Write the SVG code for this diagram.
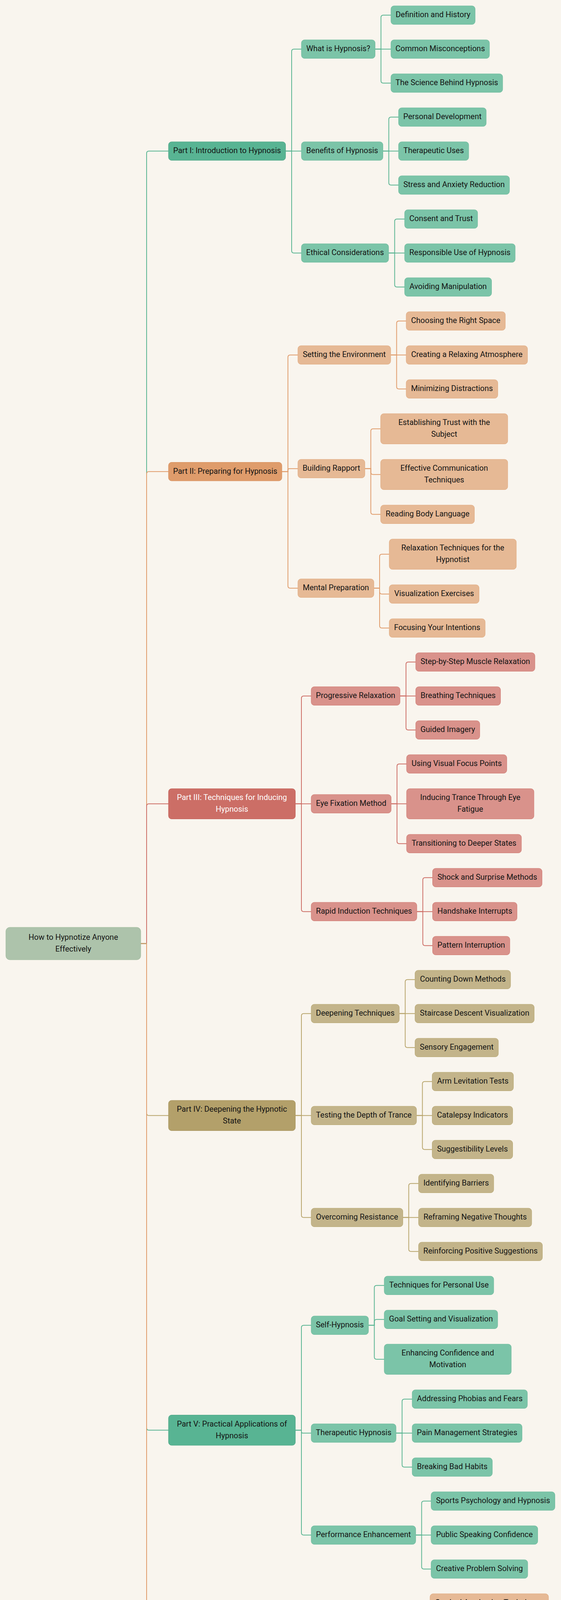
<svg xmlns="http://www.w3.org/2000/svg" width="1435" height="4839" viewBox="0 0 1435 4839">
<style>
.bg{fill:#f9f5ee}
.l{fill:none;stroke-width:2}
.lg{stroke:#5ab592}.lo{stroke:#e09c6b}.lr{stroke:#cd6e66}.ly{stroke:#b8a56c}
rect{stroke-width:1}
.root{fill:#adc3ab;stroke:#a0bb9d}
.g1{fill:#58b493;stroke:#4da585}.g2{fill:#7bc4a8;stroke:#6dba9c}
.o1{fill:#df9c6b;stroke:#d88f5c}.o2{fill:#e6b995;stroke:#e0aa80}
.r1{fill:#cc6e66;stroke:#c3625a}.r2{fill:#d9928b;stroke:#d07b73}
.y1{fill:#b3a06a;stroke:#a8955f}.y2{fill:#c3b48a;stroke:#b8a872}
text{font-family:Roboto,"Liberation Sans",sans-serif;font-size:20px;fill:#141414;text-anchor:middle}
.tw{fill:#ffffff}
</style>
<rect class="bg" x="0" y="0" width="1435" height="4839" stroke="none"/>
<g id="connectors">
<g class="l lg">
<path d="M360 2415.5 H375 V392.75 Q375 386.75 381 386.75 H431"/>
</g>
<g class="l lo">
<path d="M360 2415.5 H375 V1213.25 Q375 1207.25 381 1207.25 H431"/>
</g>
<g class="l lr">
<path d="M360 2415.5 H375 V2063.75 Q375 2057.75 381 2057.75 H431"/>
</g>
<g class="l ly">
<path d="M360 2415.5 H375 V2849.75 Q375 2855.75 381 2855.75 H431"/>
</g>
<g class="l lg">
<path d="M360 2415.5 H375 V3655.25 Q375 3661.25 381 3661.25 H431"/>
</g>
<g class="l lo">
<path d="M360 2415.5 H375 V4438.25 Q375 4444.25 381 4444.25 H431"/>
</g>
<g class="l lg">
<path d="M730.5 386.75 H746 V131.75 Q746 125.75 752 125.75 H771"/>
<path d="M730.5 386.75 H771"/>
<path d="M730.5 386.75 H746 V641.75 Q746 647.75 752 647.75 H771"/>
<path d="M959.5 125.75 H974.5 V44.75 Q974.5 38.75 980.5 38.75 H1000"/>
<path d="M959.5 125.75 H1000"/>
<path d="M959.5 125.75 H974.5 V206.75 Q974.5 212.75 980.5 212.75 H1000"/>
<path d="M979.5 386.75 H994.5 V305.75 Q994.5 299.75 1000.5 299.75 H1019.5"/>
<path d="M979.5 386.75 H1019.5"/>
<path d="M979.5 386.75 H994.5 V467.75 Q994.5 473.75 1000.5 473.75 H1019.5"/>
<path d="M994 647.75 H1009.5 V566.75 Q1009.5 560.75 1015.5 560.75 H1035"/>
<path d="M994 647.75 H1035"/>
<path d="M994 647.75 H1009.5 V728.75 Q1009.5 734.75 1015.5 734.75 H1035"/>
</g>
<g class="l lo">
<path d="M721 1207.25 H736.5 V914.75 Q736.5 908.75 742.5 908.75 H762"/>
<path d="M721 1207.25 H736.5 V1203.5 Q736.5 1199.75 740.25 1199.75 H762"/>
<path d="M721 1207.25 H736.5 V1499.75 Q736.5 1505.75 742.5 1505.75 H762"/>
<path d="M999.3 908.75 H1014.5 V827.75 Q1014.5 821.75 1020.5 821.75 H1039"/>
<path d="M999.3 908.75 H1039"/>
<path d="M999.3 908.75 H1014.5 V989.75 Q1014.5 995.75 1020.5 995.75 H1039"/>
<path d="M933.3 1199.75 H948.5 V1103.75 Q948.5 1097.75 954.5 1097.75 H973.7"/>
<path d="M933.3 1199.75 H948.5 V1208.75 Q948.5 1214.75 954.5 1214.75 H973.7"/>
<path d="M933.3 1199.75 H948.5 V1310.75 Q948.5 1316.75 954.5 1316.75 H973.7"/>
<path d="M956.3 1505.75 H971 V1424.75 Q971 1418.75 977 1418.75 H995.7"/>
<path d="M956.3 1505.75 H971 V1514.75 Q971 1520.75 977 1520.75 H995.7"/>
<path d="M956.3 1505.75 H971 V1601.75 Q971 1607.75 977 1607.75 H995.7"/>
</g>
<g class="l lr">
<path d="M755.5 2057.75 H771 V1787.75 Q771 1781.75 777 1781.75 H796"/>
<path d="M755.5 2057.75 H796"/>
<path d="M755.5 2057.75 H771 V2327.75 Q771 2333.75 777 2333.75 H796"/>
<path d="M1023.2 1781.75 H1038.5 V1700.75 Q1038.5 1694.75 1044.5 1694.75 H1063.4"/>
<path d="M1023.2 1781.75 H1063.4"/>
<path d="M1023.2 1781.75 H1038.5 V1862.75 Q1038.5 1868.75 1044.5 1868.75 H1063.4"/>
<path d="M1000.5 2057.75 H1015.5 V1961.75 Q1015.5 1955.75 1021.5 1955.75 H1040"/>
<path d="M1000.5 2057.75 H1040"/>
<path d="M1000.5 2057.75 H1015.5 V2153.75 Q1015.5 2159.75 1021.5 2159.75 H1040"/>
<path d="M1066.2 2333.75 H1081.5 V2252.75 Q1081.5 2246.75 1087.5 2246.75 H1106.5"/>
<path d="M1066.2 2333.75 H1106.5"/>
<path d="M1066.2 2333.75 H1081.5 V2414.75 Q1081.5 2420.75 1087.5 2420.75 H1106.5"/>
</g>
<g class="l ly">
<path d="M755.5 2855.75 H771 V2600.75 Q771 2594.75 777 2594.75 H796"/>
<path d="M755.5 2855.75 H796"/>
<path d="M755.5 2855.75 H771 V3110.75 Q771 3116.75 777 3116.75 H796"/>
<path d="M1021.3 2594.75 H1036.5 V2513.75 Q1036.5 2507.75 1042.5 2507.75 H1061.6"/>
<path d="M1021.3 2594.75 H1061.6"/>
<path d="M1021.3 2594.75 H1036.5 V2675.75 Q1036.5 2681.75 1042.5 2681.75 H1061.6"/>
<path d="M1065.3 2855.75 H1080.5 V2774.75 Q1080.5 2768.75 1086.5 2768.75 H1105.5"/>
<path d="M1065.3 2855.75 H1105.5"/>
<path d="M1065.3 2855.75 H1080.5 V2936.75 Q1080.5 2942.75 1086.5 2942.75 H1105.5"/>
<path d="M1030.5 3116.75 H1045.5 V3035.75 Q1045.5 3029.75 1051.5 3029.75 H1070.7"/>
<path d="M1030.5 3116.75 H1070.7"/>
<path d="M1030.5 3116.75 H1045.5 V3197.75 Q1045.5 3203.75 1051.5 3203.75 H1070.7"/>
</g>
<g class="l lg">
<path d="M755.5 3661.25 H771 V3398.75 Q771 3392.75 777 3392.75 H796"/>
<path d="M755.5 3661.25 H771 V3665 Q771 3668.75 774.75 3668.75 H796"/>
<path d="M755.5 3661.25 H771 V3923.75 Q771 3929.75 777 3929.75 H796"/>
<path d="M942.5 3392.75 H957.5 V3296.75 Q957.5 3290.75 963.5 3290.75 H982.9"/>
<path d="M942.5 3392.75 H957.5 V3383.75 Q957.5 3377.75 963.5 3377.75 H982.9"/>
<path d="M942.5 3392.75 H957.5 V3473.75 Q957.5 3479.75 963.5 3479.75 H982.9"/>
<path d="M1013 3668.75 H1028.5 V3587.75 Q1028.5 3581.75 1034.5 3581.75 H1054.3"/>
<path d="M1013 3668.75 H1054.3"/>
<path d="M1013 3668.75 H1028.5 V3749.75 Q1028.5 3755.75 1034.5 3755.75 H1054.3"/>
<path d="M1063.3 3929.75 H1078.5 V3848.75 Q1078.5 3842.75 1084.5 3842.75 H1102.8"/>
<path d="M1063.3 3929.75 H1102.8"/>
<path d="M1063.3 3929.75 H1078.5 V4010.75 Q1078.5 4016.75 1084.5 4016.75 H1102.8"/>
</g>
<g class="l lo">
<path d="M694.5 4444.25 H710 V4196.75 Q710 4190.75 716 4190.75 H735"/>
<path d="M694.5 4444.25 H710 V4448 Q710 4451.75 713.75 4451.75 H735"/>
<path d="M694.5 4444.25 H710 V4706.75 Q710 4712.75 716 4712.75 H735"/>
<path d="M1059 4190.75 H1074.5 V4109.75 Q1074.5 4103.75 1080.5 4103.75 H1100"/>
<path d="M1059 4190.75 H1100"/>
<path d="M1059 4190.75 H1074.5 V4271.75 Q1074.5 4277.75 1080.5 4277.75 H1100"/>
<path d="M971 4451.75 H986 V4370.75 Q986 4364.75 992 4364.75 H1011.3"/>
<path d="M971 4451.75 H1011.3"/>
<path d="M971 4451.75 H986 V4532.75 Q986 4538.75 992 4538.75 H1011.3"/>
<path d="M984 4712.75 H999 V4631.75 Q999 4625.75 1005 4625.75 H1024.1"/>
<path d="M984 4712.75 H1024.1"/>
<path d="M984 4712.75 H999 V4793.75 Q999 4799.75 1005 4799.75 H1024.1"/>
</g>
</g>

<g id="node-root"><rect class="root" x="15" y="2374" width="345" height="83" rx="10"/><text x="187.5" y="2405.8">How to Hypnotize Anyone</text><text x="187.5" y="2435.8">Effectively</text></g>

<g id="node-part1"><rect class="g1" x="431" y="363" width="299.5" height="47.5" rx="8"/><text x="580.75" y="392.05">Part I: Introduction to Hypnosis</text></g>
<g id="node-what"><rect class="g2" x="771" y="102" width="188.5" height="47.5" rx="8"/><text x="865.25" y="131.05">What is Hypnosis?</text></g>
<g id="node-benefits"><rect class="g2" x="771" y="363" width="208.5" height="47.5" rx="8"/><text x="875.25" y="392.05">Benefits of Hypnosis</text></g>
<g id="node-ethical"><rect class="g2" x="771" y="624" width="223" height="47.5" rx="8"/><text x="882.5" y="653.05">Ethical Considerations</text></g>
<g id="node-definition"><rect class="g2" x="1000" y="15" width="215.3" height="47.5" rx="8"/><text x="1107.65" y="44.05">Definition and History</text></g>
<g id="node-misconceptions"><rect class="g2" x="1000" y="102" width="252" height="47.5" rx="8"/><text x="1126" y="131.05">Common Misconceptions</text></g>
<g id="node-science"><rect class="g2" x="1000" y="189" width="285.8" height="47.5" rx="8"/><text x="1142.9" y="218.05">The Science Behind Hypnosis</text></g>
<g id="node-personal"><rect class="g2" x="1019.5" y="276" width="224.2" height="47.5" rx="8"/><text x="1131.6" y="305.05">Personal Development</text></g>
<g id="node-therapeutic-uses"><rect class="g2" x="1019.5" y="363" width="179.4" height="47.5" rx="8"/><text x="1109.2" y="392.05">Therapeutic Uses</text></g>
<g id="node-stress"><rect class="g2" x="1019.5" y="450" width="283.7" height="47.5" rx="8"/><text x="1161.35" y="479.05">Stress and Anxiety Reduction</text></g>
<g id="node-consent"><rect class="g2" x="1035" y="537" width="186.7" height="47.5" rx="8"/><text x="1128.35" y="566.05">Consent and Trust</text></g>
<g id="node-responsible"><rect class="g2" x="1035" y="624" width="282.8" height="47.5" rx="8"/><text x="1176.4" y="653.05">Responsible Use of Hypnosis</text></g>
<g id="node-avoiding"><rect class="g2" x="1035" y="711" width="222.4" height="47.5" rx="8"/><text x="1146.2" y="740.05">Avoiding Manipulation</text></g>

<g id="node-part2"><rect class="o1" x="431" y="1183.5" width="290" height="47.5" rx="8"/><text x="576" y="1212.55">Part II: Preparing for Hypnosis</text></g>
<g id="node-setting"><rect class="o2" x="762" y="885" width="237.3" height="47.5" rx="8"/><text x="880.65" y="914.05">Setting the Environment</text></g>
<g id="node-rapport"><rect class="o2" x="762" y="1176" width="171.3" height="47.5" rx="8"/><text x="847.65" y="1205.05">Building Rapport</text></g>
<g id="node-mental"><rect class="o2" x="762" y="1482" width="194.3" height="47.5" rx="8"/><text x="859.15" y="1511.05">Mental Preparation</text></g>
<g id="node-choosing"><rect class="o2" x="1039" y="798" width="253.5" height="47.5" rx="8"/><text x="1165.75" y="827.05">Choosing the Right Space</text></g>
<g id="node-creating"><rect class="o2" x="1039" y="885" width="310.3" height="47.5" rx="8"/><text x="1194.15" y="914.05">Creating a Relaxing Atmosphere</text></g>
<g id="node-minimizing"><rect class="o2" x="1039" y="972" width="234.3" height="47.5" rx="8"/><text x="1156.15" y="1001.05">Minimizing Distractions</text></g>
<g id="node-establishing"><rect class="o2" x="973.7" y="1059" width="325" height="77.5" rx="8"/><text x="1136.2" y="1088.05">Establishing Trust with the</text><text x="1136.2" y="1118.05">Subject</text></g>
<g id="node-effective"><rect class="o2" x="973.7" y="1176" width="325" height="77.5" rx="8"/><text x="1136.2" y="1205.05">Effective Communication</text><text x="1136.2" y="1235.05">Techniques</text></g>
<g id="node-reading"><rect class="o2" x="973.7" y="1293" width="239.8" height="47.5" rx="8"/><text x="1093.6" y="1322.05">Reading Body Language</text></g>
<g id="node-relaxation"><rect class="o2" x="995.7" y="1380" width="325" height="77.5" rx="8"/><text x="1158.2" y="1409.05">Relaxation Techniques for the</text><text x="1158.2" y="1439.05">Hypnotist</text></g>
<g id="node-visualization"><rect class="o2" x="995.7" y="1497" width="229.7" height="47.5" rx="8"/><text x="1110.55" y="1526.05">Visualization Exercises</text></g>
<g id="node-focusing"><rect class="o2" x="995.7" y="1584" width="245.3" height="47.5" rx="8"/><text x="1118.35" y="1613.05">Focusing Your Intentions</text></g>

<g id="node-part3"><rect class="r1" x="431" y="2019" width="324.5" height="77.5" rx="8"/><text class="tw" x="593.25" y="2048.05">Part III: Techniques for Inducing</text><text class="tw" x="593.25" y="2078.05">Hypnosis</text></g>
<g id="node-progressive"><rect class="r2" x="796" y="1758" width="227.2" height="47.5" rx="8"/><text x="909.6" y="1787.05">Progressive Relaxation</text></g>
<g id="node-eye"><rect class="r2" x="796" y="2034" width="204.5" height="47.5" rx="8"/><text x="898.25" y="2063.05">Eye Fixation Method</text></g>
<g id="node-rapid"><rect class="r2" x="796" y="2310" width="270.2" height="47.5" rx="8"/><text x="931.1" y="2339.05">Rapid Induction Techniques</text></g>
<g id="node-stepbystep"><rect class="r2" x="1063.4" y="1671" width="304.8" height="47.5" rx="8"/><text x="1215.8" y="1700.05">Step-by-Step Muscle Relaxation</text></g>
<g id="node-breathing"><rect class="r2" x="1063.4" y="1758" width="216.9" height="47.5" rx="8"/><text x="1171.85" y="1787.05">Breathing Techniques</text></g>
<g id="node-guided"><rect class="r2" x="1063.4" y="1845" width="163.8" height="47.5" rx="8"/><text x="1145.3" y="1874.05">Guided Imagery</text></g>
<g id="node-visualfocus"><rect class="r2" x="1040" y="1932" width="256.3" height="47.5" rx="8"/><text x="1168.15" y="1961.05">Using Visual Focus Points</text></g>
<g id="node-inducing"><rect class="r2" x="1040" y="2019" width="325.8" height="77.5" rx="8"/><text x="1202.9" y="2048.05">Inducing Trance Through Eye</text><text x="1202.9" y="2078.05">Fatigue</text></g>
<g id="node-transitioning"><rect class="r2" x="1040" y="2136" width="293.8" height="47.5" rx="8"/><text x="1186.9" y="2165.05">Transitioning to Deeper States</text></g>
<g id="node-shock"><rect class="r2" x="1106.5" y="2223" width="280" height="47.5" rx="8"/><text x="1246.5" y="2252.05">Shock and Surprise Methods</text></g>
<g id="node-handshake"><rect class="r2" x="1106.5" y="2310" width="216" height="47.5" rx="8"/><text x="1214.5" y="2339.05">Handshake Interrupts</text></g>
<g id="node-pattern"><rect class="r2" x="1106.5" y="2397" width="197.6" height="47.5" rx="8"/><text x="1205.3" y="2426.05">Pattern Interruption</text></g>

<g id="node-part4"><rect class="y1" x="431" y="2817" width="324.5" height="77.5" rx="8"/><text x="593.25" y="2846.05">Part IV: Deepening the Hypnotic</text><text x="593.25" y="2876.05">State</text></g>
<g id="node-deepening"><rect class="y2" x="796" y="2571" width="225.3" height="47.5" rx="8"/><text x="908.65" y="2600.05">Deepening Techniques</text></g>
<g id="node-testing"><rect class="y2" x="796" y="2832" width="269.3" height="47.5" rx="8"/><text x="930.65" y="2861.05">Testing the Depth of Trance</text></g>
<g id="node-overcoming"><rect class="y2" x="796" y="3093" width="234.5" height="47.5" rx="8"/><text x="913.25" y="3122.05">Overcoming Resistance</text></g>
<g id="node-counting"><rect class="y2" x="1061.6" y="2484" width="244.4" height="47.5" rx="8"/><text x="1183.8" y="2513.05">Counting Down Methods</text></g>
<g id="node-staircase"><rect class="y2" x="1061.6" y="2571" width="304.8" height="47.5" rx="8"/><text x="1214" y="2600.05">Staircase Descent Visualization</text></g>
<g id="node-sensory"><rect class="y2" x="1061.6" y="2658" width="213.2" height="47.5" rx="8"/><text x="1168.2" y="2687.05">Sensory Engagement</text></g>
<g id="node-arm"><rect class="y2" x="1105.5" y="2745" width="207.8" height="47.5" rx="8"/><text x="1209.4" y="2774.05">Arm Levitation Tests</text></g>
<g id="node-catalepsy"><rect class="y2" x="1105.5" y="2832" width="205.9" height="47.5" rx="8"/><text x="1208.45" y="2861.05">Catalepsy Indicators</text></g>
<g id="node-suggestibility"><rect class="y2" x="1105.5" y="2919" width="205.9" height="47.5" rx="8"/><text x="1208.45" y="2948.05">Suggestibility Levels</text></g>
<g id="node-identifying"><rect class="y2" x="1070.7" y="3006" width="192.2" height="47.5" rx="8"/><text x="1166.8" y="3035.05">Identifying Barriers</text></g>
<g id="node-reframing"><rect class="y2" x="1070.7" y="3093" width="289.3" height="47.5" rx="8"/><text x="1215.35" y="3122.05">Reframing Negative Thoughts</text></g>
<g id="node-reinforcing"><rect class="y2" x="1070.7" y="3180" width="316.7" height="47.5" rx="8"/><text x="1229.05" y="3209.05">Reinforcing Positive Suggestions</text></g>

<g id="node-part5"><rect class="g1" x="431" y="3622.5" width="324.5" height="77.5" rx="8"/><text x="593.25" y="3651.55">Part V: Practical Applications of</text><text x="593.25" y="3681.55">Hypnosis</text></g>
<g id="node-self"><rect class="g2" x="796" y="3369" width="146.5" height="47.5" rx="8"/><text x="869.25" y="3398.05">Self-Hypnosis</text></g>
<g id="node-therapeutic"><rect class="g2" x="796" y="3645" width="217" height="47.5" rx="8"/><text x="904.5" y="3674.05">Therapeutic Hypnosis</text></g>
<g id="node-performance"><rect class="g2" x="796" y="3906" width="267.3" height="47.5" rx="8"/><text x="929.65" y="3935.05">Performance Enhancement</text></g>
<g id="node-personaluse"><rect class="g2" x="982.9" y="3267" width="280" height="47.5" rx="8"/><text x="1122.9" y="3296.05">Techniques for Personal Use</text></g>
<g id="node-goal"><rect class="g2" x="982.9" y="3354" width="290.1" height="47.5" rx="8"/><text x="1127.95" y="3383.05">Goal Setting and Visualization</text></g>
<g id="node-enhancing"><rect class="g2" x="982.9" y="3441" width="324.9" height="77.5" rx="8"/><text x="1145.35" y="3470.05">Enhancing Confidence and</text><text x="1145.35" y="3500.05">Motivation</text></g>
<g id="node-phobias"><rect class="g2" x="1054.3" y="3558" width="294.7" height="47.5" rx="8"/><text x="1201.65" y="3587.05">Addressing Phobias and Fears</text></g>
<g id="node-pain"><rect class="g2" x="1054.3" y="3645" width="281" height="47.5" rx="8"/><text x="1194.8" y="3674.05">Pain Management Strategies</text></g>
<g id="node-habits"><rect class="g2" x="1054.3" y="3732" width="205" height="47.5" rx="8"/><text x="1156.8" y="3761.05">Breaking Bad Habits</text></g>
<g id="node-sports"><rect class="g2" x="1102.8" y="3819" width="316.6" height="47.5" rx="8"/><text x="1261.1" y="3848.05">Sports Psychology and Hypnosis</text></g>
<g id="node-public"><rect class="g2" x="1102.8" y="3906" width="272.7" height="47.5" rx="8"/><text x="1239.15" y="3935.05">Public Speaking Confidence</text></g>
<g id="node-creative"><rect class="g2" x="1102.8" y="3993" width="247.1" height="47.5" rx="8"/><text x="1226.35" y="4022.05">Creative Problem Solving</text></g>

<g id="node-part6"><rect class="o1" x="431" y="4420.5" width="263.5" height="47.5" rx="8"/><text x="562.75" y="4449.55">Part VI: Ending the Session</text></g>
<g id="node-bringing"><rect class="o2" x="735" y="4152" width="324" height="77.5" rx="8"/><text x="897" y="4181.05">Bringing the Subject Out of</text><text x="897" y="4211.05">Hypnosis</text></g>
<g id="node-aftercare"><rect class="o2" x="735" y="4428" width="236" height="47.5" rx="8"/><text x="853" y="4457.05">Aftercare and Feedback</text></g>
<g id="node-continuous"><rect class="o2" x="735" y="4689" width="249" height="47.5" rx="8"/><text x="859.5" y="4718.05">Continuous Improvement</text></g>
<g id="node-gradual"><rect class="o2" x="1100" y="4080" width="303" height="47.5" rx="8"/><text x="1251.5" y="4109.05">Gradual Awakening Techniques</text></g>
<g id="node-posthypnotic"><rect class="o2" x="1100" y="4167" width="265.4" height="47.5" rx="8"/><text x="1232.7" y="4196.05">Post-Hypnotic Suggestions</text></g>
<g id="node-ensuring"><rect class="o2" x="1100" y="4254" width="227.9" height="47.5" rx="8"/><text x="1213.95" y="4283.05">Ensuring Full Alertness</text></g>
<g id="node-discussing"><rect class="o2" x="1011.3" y="4341" width="258" height="47.5" rx="8"/><text x="1140.3" y="4370.05">Discussing the Experience</text></g>
<g id="node-concerns"><rect class="o2" x="1011.3" y="4428" width="252.6" height="47.5" rx="8"/><text x="1137.6" y="4457.05">Addressing Any Concerns</text></g>
<g id="node-planning"><rect class="o2" x="1011.3" y="4515" width="280.9" height="47.5" rx="8"/><text x="1151.75" y="4544.05">Planning Follow-Up Sessions</text></g>
<g id="node-reflecting"><rect class="o2" x="1024.1" y="4602" width="249.8" height="47.5" rx="8"/><text x="1149" y="4631.05">Reflecting on the Session</text></g>
<g id="node-learning"><rect class="o2" x="1024.1" y="4689" width="239.8" height="47.5" rx="8"/><text x="1144" y="4718.05">Learning from Feedback</text></g>
<g id="node-expanding"><rect class="o2" x="1024.1" y="4776" width="215" height="47.5" rx="8"/><text x="1131.6" y="4805.05">Expanding Your Skills</text></g>
</svg>
